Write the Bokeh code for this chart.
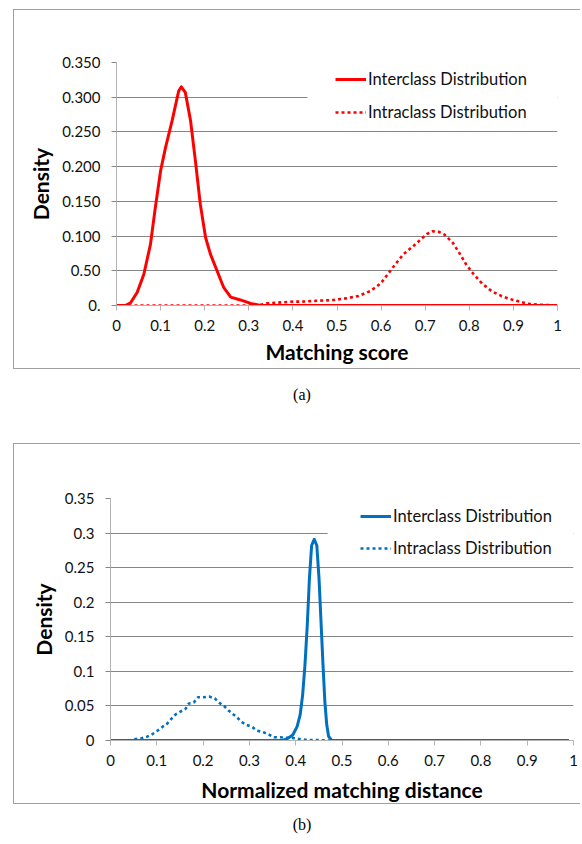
from bokeh.plotting import figure
from bokeh.models import Div, Legend, LegendItem, BoxAnnotation, Range1d, FixedTicker
from bokeh.embed import file_html
from bokeh.resources import INLINE

# ---------------- data: chart (a) ----------------
a_inter_x = [0.0, 0.02, 0.032, 0.047, 0.062, 0.077, 0.088, 0.10, 0.111, 0.126, 0.141, 0.147,
             0.156, 0.168, 0.179, 0.19, 0.202, 0.213, 0.228, 0.243, 0.259, 0.281, 0.304, 0.327, 1.0]
a_inter_y = [0.0, 0.0, 0.004, 0.019, 0.045, 0.088, 0.141, 0.194, 0.227, 0.266, 0.309, 0.315,
             0.307, 0.266, 0.208, 0.146, 0.098, 0.074, 0.050, 0.026, 0.012, 0.008, 0.003, 0.0, 0.0]

a_intra_x = [0.0, 0.32, 0.34, 0.40, 0.421, 0.451, 0.493, 0.523, 0.549, 0.576, 0.599, 0.615, 0.633,
             0.651, 0.672, 0.693, 0.704, 0.717, 0.731, 0.744, 0.763, 0.778, 0.793, 0.810, 0.829,
             0.852, 0.876, 0.901, 0.931, 0.961, 1.0]
a_intra_y = [0.0, 0.0, 0.003, 0.0056, 0.0056, 0.0066, 0.008, 0.0105, 0.0138, 0.021, 0.0316, 0.045, 0.060,
             0.074, 0.085, 0.097, 0.103, 0.107, 0.106, 0.102, 0.090, 0.075, 0.059, 0.045, 0.0316,
             0.020, 0.0128, 0.0076, 0.0027, 0.001, 0.0]

a_ticks = [0.0, 0.05, 0.10, 0.15, 0.20, 0.25, 0.30, 0.35]
a_tick_labels = ["0.", "0.50", "0.100", "0.150", "0.200", "0.250", "0.300", "0.350"]

# ---------------- data: chart (b) ----------------
b_inter_x = [0.0, 0.37, 0.3816, 0.3936, 0.403, 0.4096, 0.415, 0.42, 0.425, 0.4296, 0.4344, 0.44,
             0.4456, 0.4504, 0.455, 0.459, 0.463, 0.467, 0.471, 0.478, 0.99]
b_inter_y = [0.0, 0.0, 0.0024, 0.008, 0.020, 0.037, 0.066, 0.109, 0.167, 0.234, 0.282, 0.291,
             0.282, 0.234, 0.167, 0.109, 0.056, 0.023, 0.006, 0.0, 0.0]

b_intra_x = [0.0, 0.040, 0.054, 0.066, 0.079, 0.090, 0.101, 0.112, 0.122, 0.131, 0.140, 0.151, 0.162,
             0.169, 0.180, 0.189, 0.200, 0.213, 0.225, 0.236, 0.245, 0.254, 0.264, 0.274, 0.284,
             0.294, 0.305, 0.317, 0.329, 0.341, 0.353, 0.366, 0.38, 0.39, 0.40, 0.42, 0.45, 0.47, 0.99]
b_intra_y = [0.0, 0.0, 0.002, 0.003, 0.0055, 0.009, 0.014, 0.0196, 0.024, 0.031, 0.0374, 0.0417, 0.0457,
             0.0534, 0.055, 0.0626, 0.0626, 0.0635, 0.061, 0.054, 0.050, 0.044, 0.0384, 0.033, 0.0264,
             0.0225, 0.020, 0.0142, 0.0123, 0.009, 0.0046, 0.0046, 0.004, 0.004, 0.003, 0.001, 0.0005, 0.0, 0.0]

b_ticks = [0.0, 0.05, 0.10, 0.15, 0.20, 0.25, 0.30, 0.35]
b_tick_labels = ["0", "0.05", "0.1", "0.15", "0.2", "0.25", "0.3", "0.35"]

x_ticks = [0.0, 0.1, 0.2, 0.3, 0.4, 0.5, 0.6, 0.7, 0.8, 0.9, 1.0]
x_tick_labels = ["0", "0.1", "0.2", "0.3", "0.4", "0.5", "0.6", "0.7", "0.8", "0.9", "1"]

legend_labels = ["Interclass Distribution", "Intraclass Distribution"]

FONT = "Lato"
GRID = "#868686"
AXIS = "#b4b4b4"
BOX = "#a0a0a0"
BORDER = {"border-left": f"1px solid {BOX}", "border-top": f"1px solid {BOX}",
          "border-bottom": f"1px solid {BOX}"}


def make_chart(xlabel, yticks, ylabels, inter, intra, color, mb, legend_xy, label_width,
               spacing, cover, height, top_margin, title_standoff):
    p = figure(width=567, height=height, output_backend="svg", toolbar_location=None,
               x_range=Range1d(0, 1), y_range=Range1d(0, 0.35),
               min_border_left=mb[0], min_border_right=mb[1], min_border_top=mb[2],
               min_border_bottom=mb[3], margin=(top_margin, 0, 0, 13), styles=BORDER)
    p.outline_line_color = None
    p.xgrid.grid_line_color = None
    p.ygrid.grid_line_color = GRID
    p.ygrid.grid_line_width = 1
    p.ygrid.ticker = FixedTicker(ticks=yticks)

    p.xaxis.ticker = FixedTicker(ticks=x_ticks)
    p.xaxis.major_label_overrides = dict(zip(x_ticks, x_tick_labels))
    p.yaxis.ticker = FixedTicker(ticks=yticks)
    p.yaxis.major_label_overrides = dict(zip(yticks, ylabels))
    for ax in (p.xaxis[0], p.yaxis[0]):
        ax.axis_line_color = AXIS
        ax.major_tick_line_color = GRID
        ax.major_tick_in = 0
        ax.major_tick_out = 5
        ax.minor_tick_line_color = None
        ax.major_label_text_font = FONT
        ax.major_label_text_font_size = "15px"
        ax.major_label_text_color = "#111111"
        ax.axis_label_text_font = FONT
        ax.axis_label_text_font_size = "21px"
        ax.axis_label_text_font_style = "bold"
        ax.axis_label_text_color = "#000000"
    p.xaxis.major_tick_line_color = AXIS
    p.xaxis.axis_label = xlabel
    p.yaxis.axis_label = "Density"
    p.xaxis.major_label_standoff = 9
    p.xaxis.axis_label_standoff = title_standoff
    p.yaxis.major_label_standoff = 11
    p.yaxis.axis_label_standoff = 6

    cov = BoxAnnotation(left=cover[0], right=cover[1], bottom=cover[2], top=cover[3],
                        fill_color="white", fill_alpha=1.0, line_alpha=0, level="underlay")
    p.add_layout(cov)

    r1 = p.line(inter[0], inter[1], line_color=color, line_width=3, line_join="round")
    r2 = p.line(intra[0], intra[1], line_color=color, line_width=2.6, line_dash="3 3")

    leg = Legend(items=[LegendItem(label=legend_labels[0], renderers=[r1]),
                        LegendItem(label=legend_labels[1], renderers=[r2])],
                 location=legend_xy, padding=4, spacing=spacing, glyph_width=31, glyph_height=20,
                 label_height=20, label_width=label_width, label_standoff=2,
                 label_text_font=FONT, label_text_font_size="16.5px", label_text_color="#111111",
                 border_line_color=None, background_fill_color="white", background_fill_alpha=1.0,
                 margin=0)
    p.add_layout(leg)
    return p


pa = make_chart("Matching score", a_ticks, a_tick_labels, (a_inter_x, a_inter_y),
                (a_intra_x, a_intra_y), "#ff0000", (102, 24, 52, 65), (219, 183), 215, 13,
                (0.433, 0.50, 0.257, 0.345), 360, 9, 5)
pb = make_chart("Normalized matching distance", b_ticks, b_tick_labels, (b_inter_x, b_inter_y),
                (b_intra_x, b_intra_y), "#0070c0", (96, 8, 54, 65), (250, 182), 205, 12,
                (0.469, 0.56, 0.26, 0.347), 361, 0, 8)

cap_style = {"font-family": "Liberation Serif", "font-size": "16px", "text-align": "center",
             "color": "#000000"}
da = Div(text="(a)", width=60, height=74, margin=(0, 0, 0, 272),
         styles=dict(cap_style, **{"line-height": "52px"}))
db = Div(text="(b)", width=60, height=40, margin=(0, 0, 0, 272),
         styles=dict(cap_style, **{"line-height": "42px"}))

open("out.html", "w").write(file_html([pa, da, pb, db], INLINE))
